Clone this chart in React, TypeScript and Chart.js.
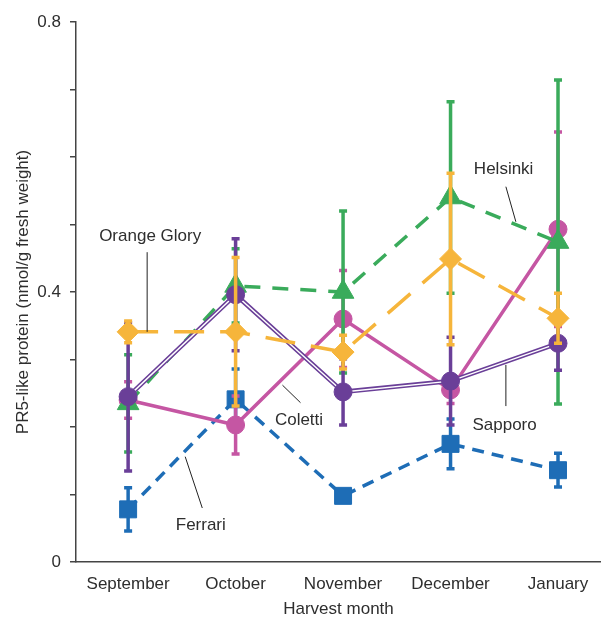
import React, { useEffect, useRef } from 'react';
import { Chart, registerables } from 'chart.js';

Chart.register(...registerables);

// ---------- data ----------
const months = ['September', 'October', 'November', 'December', 'January'];
const yTickValues = [0, 0.1, 0.2, 0.3, 0.4, 0.5, 0.6, 0.7, 0.8];
const yTickLabels = ['0', '', '', '', '0.4', '', '', '', '0.8'];

const ferrari = [0.078, 0.241, 0.098, 0.175, 0.136];
const ferrariErr = [0.032, 0.045, 0.008, 0.037, 0.025];

const orangeGlory = [0.341, 0.341, 0.311, 0.449, 0.361];
const orangeGloryErr = [0.016, 0.11, 0.025, 0.127, 0.037];

const helsinki = [0.235, 0.409, 0.4, 0.54, 0.474];
const helsinkiErr = [0.072, 0.055, 0.12, 0.142, 0.24];

const coletti = [0.24, 0.203, 0.36, 0.255, 0.493];
const colettiErr = [0.027, 0.043, 0.072, 0.02, 0.144];

const sapporo = [0.245, 0.396, 0.252, 0.268, 0.324];
const sapporoErr = [0.11, 0.083, 0.049, 0.065, 0.04];

// labels with leader lines, in data coordinates
const annotationText = ['Orange Glory', 'Ferrari', 'Coletti', 'Helsinki', 'Sapporo'];
const annotationTextPos = [
  [0.205, 0.483],
  [0.676, 0.054],
  [1.59, 0.21],
  [3.494, 0.582],
  [3.503, 0.203],
];
const annotationLeader = [
  [0.177, 0.459, 0.177, 0.341],
  [0.531, 0.156, 0.69, 0.08],
  [1.436, 0.262, 1.604, 0.236],
  [3.515, 0.556, 3.608, 0.504],
  [3.515, 0.292, 3.515, 0.231],
];

const BLUE = '#1e6db6';
const ORANGE = '#f6b53b';
const GREEN = '#3aab5b';
const PINK = '#c556a3';
const PURPLE = '#6a3f98';
const TEXT = '#2e2e2e';
const AXIS = '#444444';
const FONT = "'Liberation Sans', Arial, sans-serif";

const toPoints = (arr: number[]) => arr.map((v, i) => ({ x: i, y: v }));

const errorBarPlugin = {
  id: 'errorBars',
  beforeDatasetDraw(chart: any, args: any) {
    const ds = chart.data.datasets[args.index];
    if (!ds.errors) return;
    const { ctx } = chart;
    const x = chart.scales.x;
    const y = chart.scales.y;
    ctx.save();
    ctx.strokeStyle = ds.errorColor;
    ctx.lineWidth = 3.5;
    ds.data.forEach((p: any, i: number) => {
      const px = x.getPixelForValue(p.x);
      const top = y.getPixelForValue(p.y + ds.errors[i]);
      const bot = y.getPixelForValue(p.y - ds.errors[i]);
      ctx.beginPath();
      ctx.moveTo(px, top);
      ctx.lineTo(px, bot);
      ctx.stroke();
      ctx.beginPath();
      ctx.moveTo(px - 4, top);
      ctx.lineTo(px + 4, top);
      ctx.moveTo(px - 4, bot);
      ctx.lineTo(px + 4, bot);
      ctx.stroke();
    });
    ctx.restore();
  },
};

const annotationPlugin = {
  id: 'annotations',
  afterDatasetsDraw(chart: any) {
    const { ctx } = chart;
    const x = chart.scales.x;
    const y = chart.scales.y;
    ctx.save();
    ctx.strokeStyle = '#222';
    ctx.lineWidth = 1;
    annotationLeader.forEach(([x1, y1, x2, y2]) => {
      ctx.beginPath();
      ctx.moveTo(x.getPixelForValue(x1), y.getPixelForValue(y1));
      ctx.lineTo(x.getPixelForValue(x2), y.getPixelForValue(y2));
      ctx.stroke();
    });
    ctx.fillStyle = TEXT;
    ctx.font = `17px ${FONT}`;
    ctx.textAlign = 'center';
    ctx.textBaseline = 'middle';
    annotationText.forEach((t, i) => {
      const [tx, ty] = annotationTextPos[i];
      ctx.fillText(t, x.getPixelForValue(tx), y.getPixelForValue(ty));
    });
    ctx.restore();
  },
};

export default function App() {
  const ref = useRef<HTMLCanvasElement>(null);

  useEffect(() => {
    if (!ref.current) return;
    const lineBase = {
      borderWidth: 3.5,
      tension: 0,
      pointBorderWidth: 1,
      pointHoverRadius: 0,
    };
    const chart = new Chart(ref.current, {
      type: 'line',
      data: {
        datasets: [
          {
            ...lineBase,
            label: 'Orange Glory',
            data: toPoints(orangeGlory),
            borderColor: ORANGE,
            backgroundColor: ORANGE,
            pointBorderColor: ORANGE,
            borderDash: [30, 16],
            pointStyle: 'rectRot',
            pointRadius: 11,
            order: 0,
            errors: orangeGloryErr,
            errorColor: ORANGE,
          } as any,
          {
            label: 'Sapporo points',
            data: toPoints(sapporo),
            showLine: false,
            borderColor: PURPLE,
            backgroundColor: PURPLE,
            pointBorderColor: PURPLE,
            pointStyle: 'circle',
            pointRadius: 9,
            pointHoverRadius: 0,
            order: 1,
          } as any,
          {
            label: 'Sapporo inner',
            data: toPoints(sapporo),
            borderColor: '#ffffff',
            borderWidth: 1.4,
            tension: 0,
            pointRadius: 0,
            pointHoverRadius: 0,
            order: 2,
          } as any,
          {
            label: 'Sapporo',
            data: toPoints(sapporo),
            borderColor: PURPLE,
            backgroundColor: PURPLE,
            pointBorderColor: PURPLE,
            borderWidth: 4.6,
            tension: 0,
            pointRadius: 0,
            pointHoverRadius: 0,
            order: 3,
            errors: sapporoErr,
            errorColor: PURPLE,
          } as any,
          {
            ...lineBase,
            label: 'Helsinki',
            data: toPoints(helsinki),
            borderColor: GREEN,
            backgroundColor: GREEN,
            pointBorderColor: GREEN,
            borderDash: [16, 12],
            pointStyle: 'triangle',
            pointRadius: 12.5,
            order: 4,
            errors: helsinkiErr,
            errorColor: GREEN,
          } as any,
          {
            ...lineBase,
            label: 'Coletti',
            data: toPoints(coletti),
            borderColor: PINK,
            backgroundColor: PINK,
            pointBorderColor: PINK,
            pointStyle: 'circle',
            pointRadius: 9,
            order: 5,
            errors: colettiErr,
            errorColor: PINK,
          } as any,
          {
            ...lineBase,
            label: 'Ferrari',
            data: toPoints(ferrari),
            borderColor: BLUE,
            backgroundColor: BLUE,
            pointBorderColor: BLUE,
            borderDash: [12, 8],
            pointStyle: 'rect',
            pointRadius: 12,
            order: 6,
            errors: ferrariErr,
            errorColor: BLUE,
          } as any,
        ],
      },
      options: {
        responsive: false,
        animation: false,
        devicePixelRatio: 1,
        events: [],
        layout: { autoPadding: false, padding: { top: 22, right: 0, left: 0, bottom: 0 } },
        plugins: {
          legend: { display: false },
          tooltip: { enabled: false },
        },
        scales: {
          x: {
            type: 'linear',
            min: -0.485,
            max: 4.4,
            afterBuildTicks: (s: any) => {
              s.ticks = months.map((_, i) => ({ value: i }));
            },
            afterFit: (s: any) => {
              s.height = 55;
              s.paddingLeft = 0;
              s.paddingRight = 0;
            },
            grid: { display: true, drawOnChartArea: false, drawTicks: false },
            border: { display: true, color: AXIS, width: 1.5 },
            ticks: {
              padding: 12,
              color: TEXT,
              font: { family: FONT, size: 17 },
              maxRotation: 0,
              autoSkip: false,
              callback: (v: any) => months[Math.round(Number(v))] ?? '',
            },
            title: {
              display: true,
              text: 'Harvest month',
              color: TEXT,
              font: { family: FONT, size: 17 },
              padding: { top: 0, bottom: -3 },
            },
          },
          y: {
            type: 'linear',
            min: 0,
            max: 0.8,
            afterBuildTicks: (s: any) => {
              s.ticks = yTickValues.map((v) => ({ value: v }));
            },
            afterFit: (s: any) => {
              s.width = 76;
              s.paddingTop = 0;
              s.paddingBottom = 0;
            },
            grid: {
              display: true,
              drawOnChartArea: false,
              drawTicks: true,
              tickLength: 6,
              color: AXIS,
              lineWidth: 1.5,
            },
            border: { display: true, color: AXIS, width: 1.5 },
            ticks: {
              padding: 9,
              color: TEXT,
              font: { family: FONT, size: 17 },
              autoSkip: false,
              callback: (_v: any, i: number) => yTickLabels[i],
            },
            title: {
              display: true,
              text: 'PR5-like protein (nmol/g fresh weight)',
              color: TEXT,
              font: { family: FONT, size: 17 },
              padding: { top: 13, bottom: 0 },
            },
          },
        },
      } as any,
      plugins: [errorBarPlugin, annotationPlugin],
    });
    return () => chart.destroy();
  }, []);

  return (
    <div style={{ position: 'absolute', left: 0, top: 0, width: 601, height: 617, background: '#fff' }}>
      <canvas ref={ref} width={601} height={617} />
    </div>
  );
}
